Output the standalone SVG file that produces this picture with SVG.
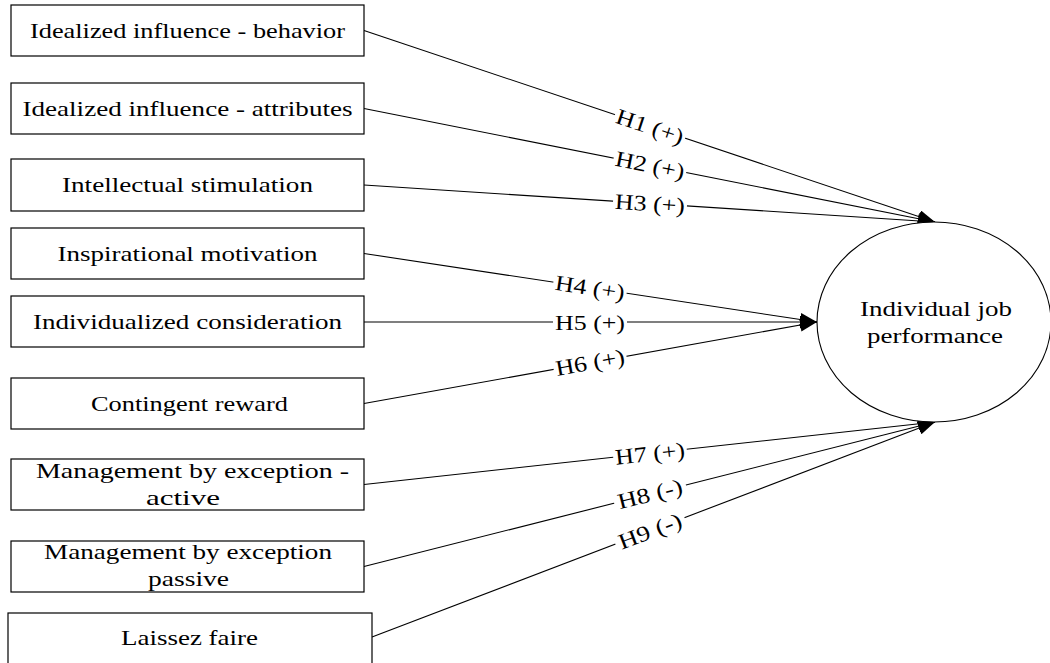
<svg xmlns="http://www.w3.org/2000/svg" width="1050" height="663" viewBox="0 0 1050 663">
<style>
.box{fill:#fff;stroke:#000;stroke-width:1.2}
.t{font-family:"Liberation Serif","Times New Roman",serif;font-size:22px;fill:#000;text-anchor:middle}
.ln{fill:none;stroke:#000;stroke-width:1.1}
.bg{fill:#fff}
</style>
<defs>
<marker id="ah" markerUnits="userSpaceOnUse" markerWidth="18" markerHeight="14" refX="17" refY="6.5" orient="auto">
<path d="M0,0 L17,6.5 L0,13 Z" fill="#000"/>
</marker>
</defs>
<rect width="1050" height="663" fill="#fff"/>
<g id="connectors">
<line class="ln" x1="364" y1="30.5" x2="935" y2="222" marker-end="url(#ah)"/>
<line class="ln" x1="364" y1="108.5" x2="935" y2="222" marker-end="url(#ah)"/>
<line class="ln" x1="364" y1="185" x2="935" y2="222" marker-end="url(#ah)"/>
<line class="ln" x1="364" y1="253.5" x2="817" y2="322" marker-end="url(#ah)"/>
<line class="ln" x1="364" y1="322" x2="817" y2="322" marker-end="url(#ah)"/>
<line class="ln" x1="364" y1="403.5" x2="817" y2="322" marker-end="url(#ah)"/>
<line class="ln" x1="364" y1="484.5" x2="935" y2="422" marker-end="url(#ah)"/>
<line class="ln" x1="364" y1="566.5" x2="935" y2="422" marker-end="url(#ah)"/>
<line class="ln" x1="372" y1="637" x2="935" y2="422" marker-end="url(#ah)"/>
<g transform="translate(650,126.5) rotate(18.5)"><rect class="bg" x="-37" y="-10" width="74" height="20"/><text class="t" x="0" y="7.5" textLength="70" lengthAdjust="spacingAndGlyphs">H1 (+)</text></g>
<g transform="translate(650,165) rotate(11.3)"><rect class="bg" x="-37" y="-10" width="74" height="20"/><text class="t" x="0" y="7.5" textLength="70" lengthAdjust="spacingAndGlyphs">H2 (+)</text></g>
<g transform="translate(650,203.5) rotate(3.7)"><rect class="bg" x="-37" y="-10" width="74" height="20"/><text class="t" x="0" y="7.5" textLength="70" lengthAdjust="spacingAndGlyphs">H3 (+)</text></g>
<g transform="translate(590,287.5) rotate(8.6)"><rect class="bg" x="-37" y="-10" width="74" height="20"/><text class="t" x="0" y="7.5" textLength="70" lengthAdjust="spacingAndGlyphs">H4 (+)</text></g>
<g transform="translate(590,322)"><rect class="bg" x="-37" y="-10" width="74" height="20"/><text class="t" x="0" y="7.5" textLength="70" lengthAdjust="spacingAndGlyphs">H5 (+)</text></g>
<g transform="translate(590,362.5) rotate(-10.2)"><rect class="bg" x="-37" y="-10" width="74" height="20"/><text class="t" x="0" y="7.5" textLength="70" lengthAdjust="spacingAndGlyphs">H6 (+)</text></g>
<g transform="translate(650,453.5) rotate(-6.3)"><rect class="bg" x="-37" y="-10" width="74" height="20"/><text class="t" x="0" y="7.5" textLength="70" lengthAdjust="spacingAndGlyphs">H7 (+)</text></g>
<g transform="translate(650,494) rotate(-14.2)"><rect class="bg" x="-37" y="-10" width="74" height="20"/><text class="t" x="0" y="7.5" textLength="66" lengthAdjust="spacingAndGlyphs">H8 (-)</text></g>
<g transform="translate(650,531) rotate(-20.9)"><rect class="bg" x="-37" y="-10" width="74" height="20"/><text class="t" x="0" y="7.5" textLength="66" lengthAdjust="spacingAndGlyphs">H9 (-)</text></g>
</g>
<g id="n1"><rect class="box" x="11" y="5" width="353" height="51"/><text class="t" x="187.5" y="38" textLength="315" lengthAdjust="spacingAndGlyphs">Idealized influence - behavior</text></g>
<g id="n2"><rect class="box" x="11" y="83" width="353" height="51"/><text class="t" x="187.5" y="116" textLength="330" lengthAdjust="spacingAndGlyphs">Idealized influence - attributes</text></g>
<g id="n3"><rect class="box" x="11" y="159" width="353" height="52"/><text class="t" x="187.5" y="192" textLength="251" lengthAdjust="spacingAndGlyphs">Intellectual stimulation</text></g>
<g id="n4"><rect class="box" x="11" y="228" width="353" height="51"/><text class="t" x="187.5" y="261" textLength="260" lengthAdjust="spacingAndGlyphs">Inspirational motivation</text></g>
<g id="n5"><rect class="box" x="11" y="296" width="353" height="51"/><text class="t" x="187.5" y="329" textLength="309" lengthAdjust="spacingAndGlyphs">Individualized consideration</text></g>
<g id="n6"><rect class="box" x="11" y="378" width="353" height="51"/><text class="t" x="189.5" y="411" textLength="197" lengthAdjust="spacingAndGlyphs">Contingent reward</text></g>
<g id="n7"><rect class="box" x="11" y="459" width="353" height="51"/><text class="t" x="192.5" y="478" textLength="313" lengthAdjust="spacingAndGlyphs">Management by exception -</text><text class="t" x="183" y="505" textLength="74" lengthAdjust="spacingAndGlyphs">active</text></g>
<g id="n8"><rect class="box" x="11" y="541" width="353" height="51"/><text class="t" x="188" y="559" textLength="288" lengthAdjust="spacingAndGlyphs">Management by exception</text><text class="t" x="188.5" y="586" textLength="81" lengthAdjust="spacingAndGlyphs">passive</text></g>
<g id="n9"><rect class="box" x="8" y="613" width="364" height="60"/><text class="t" x="189.5" y="645" textLength="137" lengthAdjust="spacingAndGlyphs">Laissez faire</text></g>
<g id="n10"><ellipse cx="934" cy="322" rx="117" ry="100" fill="#fff" stroke="#000" stroke-width="1.1"/><text class="t" x="936" y="316" textLength="152" lengthAdjust="spacingAndGlyphs">Individual job</text><text class="t" x="935" y="343" textLength="136" lengthAdjust="spacingAndGlyphs">performance</text></g>
</svg>
